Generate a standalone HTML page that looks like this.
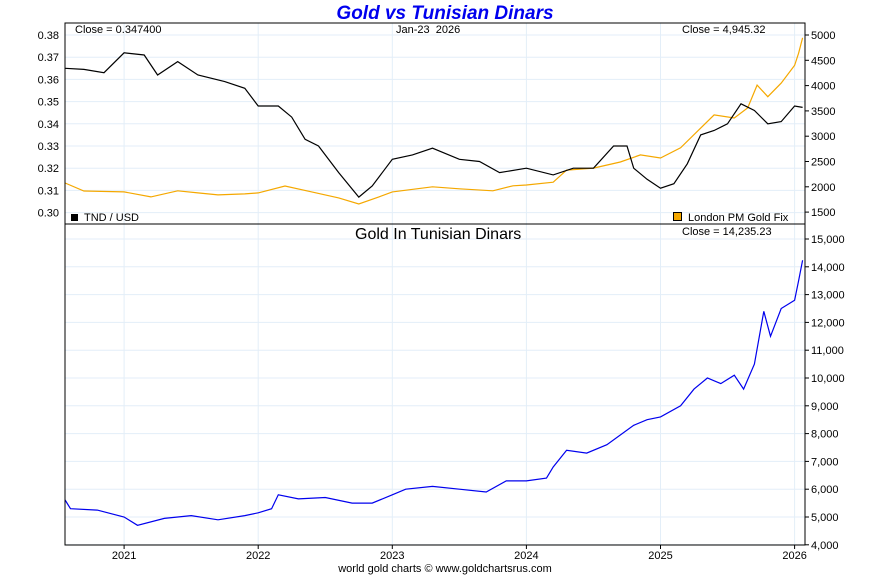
<!DOCTYPE html>
<html><head><meta charset="utf-8"><style>
body{margin:0;background:#fff;}
svg{display:block;font-family:"Liberation Sans",sans-serif;}
</style></head><body>
<svg id="c" width="890" height="575"></svg>
<script>
const dates=[2020.56,2020.7,2020.85,2021.0,2021.15,2021.25,2021.4,2021.55,2021.75,2021.9,2022.0,2022.15,2022.25,2022.35,2022.45,2022.6,2022.75,2022.85,2023.0,2023.15,2023.3,2023.5,2023.65,2023.8,2024.0,2024.2,2024.35,2024.5,2024.65,2024.75,2024.8,2024.9,2025.0,2025.1,2025.2,2025.3,2025.4,2025.5,2025.6,2025.7,2025.8,2025.9,2026.0,2026.06];
const tndUsd=[0.365,0.3645,0.363,0.372,0.371,0.362,0.368,0.362,0.359,0.356,0.348,0.348,0.343,0.333,0.330,0.318,0.307,0.312,0.324,0.326,0.329,0.324,0.323,0.318,0.320,0.317,0.320,0.320,0.330,0.330,0.320,0.315,0.311,0.313,0.322,0.335,0.337,0.340,0.349,0.346,0.340,0.341,0.348,0.3474];
const goldDates=[2020.56,2020.7,2021.0,2021.2,2021.4,2021.55,2021.7,2021.9,2022.0,2022.2,2022.4,2022.6,2022.75,2022.9,2023.0,2023.3,2023.5,2023.75,2023.9,2024.0,2024.2,2024.3,2024.5,2024.7,2024.85,2025.0,2025.15,2025.3,2025.4,2025.55,2025.65,2025.72,2025.8,2025.9,2026.0,2026.03,2026.06];
const goldUsd=[2075,1917,1900,1800,1920,1880,1840,1860,1880,2015,1900,1780,1660,1800,1900,2000,1960,1920,2020,2035,2090,2330,2370,2490,2630,2570,2770,3160,3420,3360,3560,4010,3780,4050,4400,4640,4945];
const tndDates=[2020.56,2020.6,2020.8,2021.0,2021.1,2021.3,2021.5,2021.7,2021.9,2022.0,2022.1,2022.15,2022.3,2022.5,2022.7,2022.85,2023.0,2023.1,2023.3,2023.5,2023.7,2023.85,2024.0,2024.15,2024.2,2024.3,2024.45,2024.6,2024.8,2024.9,2025.0,2025.15,2025.25,2025.35,2025.45,2025.55,2025.62,2025.7,2025.77,2025.82,2025.9,2026.0,2026.03,2026.06];
const goldTnd=[5610,5300,5250,5000,4700,4950,5050,4900,5050,5150,5300,5800,5650,5700,5500,5500,5800,6000,6100,6000,5900,6300,6300,6400,6800,7400,7300,7600,8300,8500,8600,9000,9600,10000,9800,10100,9600,10500,12400,11500,12500,12800,13500,14235];
const leftTicks=[0.30,0.31,0.32,0.33,0.34,0.35,0.36,0.37,0.38];
const rightTicks=[1500,2000,2500,3000,3500,4000,4500,5000];
const bottomTicks=[4000,5000,6000,7000,8000,9000,10000,11000,12000,13000,14000,15000];
const years=[2021,2022,2023,2024,2025,2026];

const NS="http://www.w3.org/2000/svg";
const svg=document.getElementById('c');
function el(t,a,txt){const e=document.createElementNS(NS,t);for(const k in a)e.setAttribute(k,a[k]);if(txt!==undefined)e.textContent=txt;svg.appendChild(e);return e;}
const X0=65,X1=805;
const xs=d=>660.5+(d-2025)*134.1;
const yL=v=>35+(0.38-v)/0.01*22.2;
const yR=v=>35+(5000-v)/500*25.3;
const yB=v=>239+(15000-v)/1000*27.8;
const fmt=n=>n.toLocaleString('en-US');

// grids
for(const t of leftTicks){const g=el('line',{x1:X0,x2:X1,y1:yL(t),y2:yL(t),stroke:'#e3eef8','stroke-width':1});
}
for(const t of bottomTicks){const g=el('line',{x1:X0,x2:X1,y1:yB(t),y2:yB(t),stroke:'#e3eef8','stroke-width':1});
}
for(const y of years){const g=el('line',{x1:xs(y),x2:xs(y),y1:23,y2:545,stroke:'#e3eef8','stroke-width':1});
}

function line(dx,vals,f,color,name){const p=vals.map((v,i)=>xs(dx[i]).toFixed(1)+','+f(v).toFixed(1)).join(' ');
const l=el('polyline',{points:p,fill:'none',stroke:color,'stroke-width':1.2});
}
line(goldDates,goldUsd,yR,'#f5a800','gold-usd-line');
line(dates,tndUsd,yL,'#000','tnd-usd-line');
line(tndDates,goldTnd,yB,'#0000ee','gold-tnd-line');

// frames
let f=el('rect',{x:X0,y:23,width:X1-X0,height:201,fill:'none',stroke:'#000','stroke-width':1});

f=el('rect',{x:X0,y:224,width:X1-X0,height:321,fill:'none',stroke:'#000','stroke-width':1});


// ticks/labels
for(const t of leftTicks){const e=el('text',{x:59,y:yL(t)+4,'font-size':11,'text-anchor':'end'},t.toFixed(2));
}
for(const t of rightTicks){el('line',{x1:X1,x2:X1+4,y1:yR(t),y2:yR(t),stroke:'#000'});
const e=el('text',{x:811,y:yR(t)+4,'font-size':11},String(t));
}
for(const t of bottomTicks){el('line',{x1:X1,x2:X1+4,y1:yB(t),y2:yB(t),stroke:'#000'});
const e=el('text',{x:811,y:yB(t)+4,'font-size':11},fmt(t));
}
for(const y of years){el('line',{x1:xs(y),x2:xs(y),y1:545,y2:549,stroke:'#000'});
const e=el('text',{x:xs(y),y:559,'font-size':11,'text-anchor':'middle'},String(y));
}
</script>
<svg width="0" height="0"></svg>
<div style="position:absolute;left:0;top:0;width:890px;height:575px;pointer-events:none;font-family:'Liberation Sans',sans-serif;">
<div style="position:absolute;left:0;width:890px;top:3px;text-align:center;color:#0000ee;font-weight:bold;font-style:italic;font-size:19px;">Gold vs Tunisian Dinars</div>
<div style="position:absolute;left:396px;top:24px;font-size:11px;">Jan-23&nbsp; 2026</div>
<div style="position:absolute;left:75px;top:24px;font-size:11px;">Close = 0.347400</div>
<div style="position:absolute;left:682px;top:24px;font-size:11px;">Close = 4,945.32</div>
<div style="position:absolute;left:71px;top:212px;font-size:11px;"><span style="display:inline-block;width:7px;height:7px;background:#000;margin-right:6px;"></span>TND / USD</div>
<div style="position:absolute;left:673px;top:212px;font-size:11px;"><span style="display:inline-block;width:7px;height:7px;background:#f5a800;border:1px solid #000;margin-right:6px;"></span>London PM Gold Fix</div>
<div style="position:absolute;left:355px;top:226px;font-size:16px;">Gold In Tunisian Dinars</div>
<div style="position:absolute;left:682px;top:226px;font-size:11px;">Close = 14,235.23</div>
<div style="position:absolute;left:0;width:890px;top:563px;text-align:center;font-size:11px;">world gold charts © www.goldchartsrus.com</div>
</div>
</body></html>
